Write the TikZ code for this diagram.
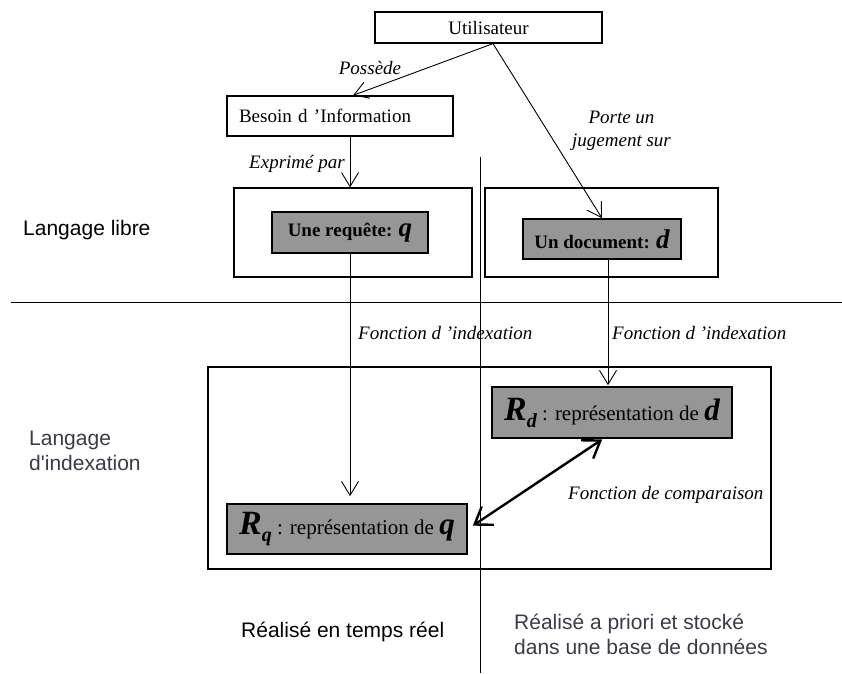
\documentclass[tikz,border=0pt]{standalone}
\usepackage{fontspec}
\setmainfont{Liberation Serif}
\newfontfamily\arial{Liberation Sans}
\usetikzlibrary{arrows.meta}
\definecolor{boxgray}{RGB}{150,150,150}
\definecolor{notegray}{RGB}{58,58,72}
\newcommand{\bigsym}[2]{{\fontsize{#1}{#1}\selectfont\bfseries\itshape #2}}
\begin{document}
\begin{tikzpicture}[x=1pt,y=-1pt,
  plain/.style={draw, line width=1.2pt, inner sep=0pt},
  graybox/.style={draw, fill=boxgray, line width=1.6pt, inner sep=0pt},
  boxtext/.style={font=\fontsize{19}{23}\selectfont},
  lab/.style={inner sep=0pt, font=\fontsize{19}{23}\selectfont\itshape, align=center},
  side/.style={inner sep=0pt, font=\arial\fontsize{21}{25}\selectfont, align=left},
  link/.style={line width=0.9pt, -{Straight Barb[length=14pt,width=17pt,line width=0.9pt]}},
  comp/.style={line width=2.4pt, {Straight Barb[length=16pt,width=22pt,line width=2.4pt]}-{Straight Barb[length=16pt,width=22pt,line width=2.4pt]}}
]
\useasboundingbox (0,0) rectangle (842,673);

% top: user and information need
\node[plain, boxtext, minimum width=227pt, minimum height=31pt] (user) at (488.5,27.5) {Utilisateur};
\node[plain, boxtext, text width=202pt, inner xsep=12pt, minimum height=40pt, align=left] (besoin) at (340,116) {Besoin d 'Information};

% free language frames
\node[plain, minimum width=238pt, minimum height=89pt] (libreL) at (353,232.5) {};
\node[plain, minimum width=233pt, minimum height=89pt] (libreR) at (601.5,232.5) {};
\node[graybox, boxtext, font=\fontsize{19}{23}\selectfont\bfseries, minimum width=156pt, minimum height=41pt] (requete) at (350,232.5) {Une requête: \bigsym{27}{q}};
\node[graybox, boxtext, font=\fontsize{19}{23}\selectfont\bfseries, minimum width=158pt, minimum height=40pt] (document) at (602,239) {Un document: \bigsym{27}{d}};

% indexing language frame
\node[plain, minimum width=563pt, minimum height=202pt] (index) at (489.5,468) {};
\node[graybox, boxtext, font=\fontsize{21}{25}\selectfont, minimum width=240pt, minimum height=51pt] (Rd) at (612,412.5)
  {\bigsym{34}{R}\raisebox{-7pt}{\bigsym{20}{d}} : représentation de \bigsym{31}{d}};
\node[graybox, boxtext, font=\fontsize{21}{25}\selectfont, minimum width=240pt, minimum height=50pt] (Rq) at (347,529)
  {\bigsym{34}{R}\raisebox{-7pt}{\bigsym{20}{q}} : représentation de \bigsym{31}{q}};

% separators
\coordinate (sepL) at (11,302);
\coordinate (sepR) at (842,302);
\coordinate (vtop) at (480,157);
\coordinate (vbot) at (480,673);
\draw[line width=0.9pt] (sepL) -- (sepR);
\draw[line width=0.9pt] (vtop) -- (vbot);

% connectors
\draw[link] ([xshift=4.5pt]user.south) -- ([xshift=13pt]besoin.north);
\draw[link] ([xshift=4.5pt]user.south) -- (document.north);
\draw[link] (besoin.south -| requete) -- (requete |- libreL.north);
\draw[link, shorten >=7pt] (requete.south) -- (requete.south |- Rq.north);
\draw[link, shorten >=1pt] ([xshift=6pt]document.south) -- ([xshift=6pt]document.south |- Rd.north);
\draw[comp, shorten <=1pt, shorten >=6pt] ([xshift=-9pt]Rd.south) -- (Rq.east);

% connector labels
\node[lab] (possede) at (370,68) {Possède};
\node[lab] (porte) at (621.5,131) {Porte un\\jugement sur};
\node[lab] (exprime) at (297,164) {Exprimé par};
\node[lab, anchor=west] (fidxL) at (358,333) {Fonction d 'indexation};
\node[lab, anchor=west] (fidxR) at (612,333) {Fonction d 'indexation};
\node[lab, anchor=west] (fcomp) at (568,495) {Fonction de comparaison};

% side notes
\node[side, anchor=west] (libre) at (23,230) {Langage libre};
\node[side, anchor=west, text=notegray] (langidx) at (29,450.5) {Langage\\d'indexation};
\node[side, anchor=west] (reel) at (241,632) {Réalisé en temps réel};
\node[side, anchor=west, text=notegray] (priori) at (514,634) {Réalisé a priori et stocké\\dans une base de données};
\end{tikzpicture}
\end{document}
